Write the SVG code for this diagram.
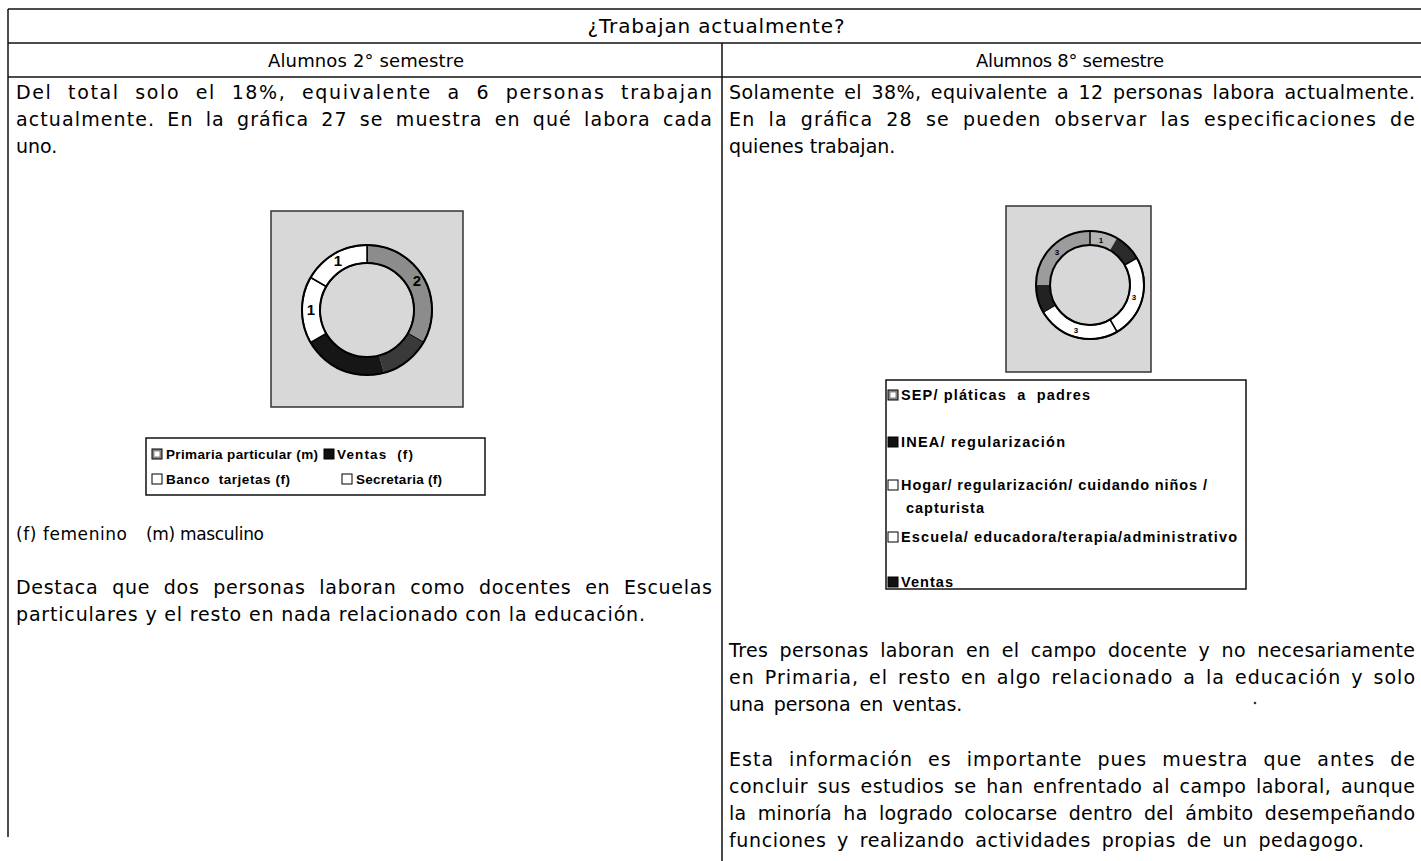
<svg xmlns="http://www.w3.org/2000/svg" width="1421" height="861" viewBox="0 0 1421 861">
<style>
.ln{stroke:#111;stroke-width:1.5;fill:none}
.t{font-family:"DejaVu Sans",sans-serif;font-size:19px;fill:#000}
.sh{font-family:"DejaVu Sans",sans-serif;font-size:18px;fill:#000}
.h{font-family:"DejaVu Sans",sans-serif;font-size:20px;fill:#000}
.s{font-family:"DejaVu Sans",sans-serif;font-size:17px;fill:#000}
.lg{font-family:"Liberation Sans",Arial,sans-serif;font-weight:bold;font-size:13.5px;fill:#000}
.lg2{font-family:"Liberation Sans",Arial,sans-serif;font-weight:bold;font-size:14.5px;fill:#000}
.dl{font-family:"Liberation Sans",Arial,sans-serif;font-weight:bold;font-size:15px;fill:#000}
.dl2{font-family:"Liberation Sans",Arial,sans-serif;font-weight:bold;font-size:8px;fill:#000}
.box{fill:#d8d8d8;stroke:#333;stroke-width:1.5}
.ring{fill:none;stroke:#000;stroke-width:2}
.seg{stroke:#000;stroke-width:1.5}
.ic{stroke:#000;stroke-width:1}
</style>
<rect width="1421" height="861" fill="#fff"/>
<g id="table">
<line class="ln" x1="8" y1="9" x2="1421" y2="9"/>
<line class="ln" x1="8" y1="43" x2="1421" y2="43"/>
<line class="ln" x1="8" y1="77" x2="1421" y2="77"/>
<line class="ln" x1="722" y1="43" x2="722" y2="861"/>
<line class="ln" x1="8" y1="9" x2="8" y2="837"/>
</g>
<g id="header">
<text class="h" x="716" y="33" text-anchor="middle" textLength="257" lengthAdjust="spacing">¿Trabajan actualmente?</text>
<text class="sh" x="366" y="67" text-anchor="middle" textLength="196" lengthAdjust="spacing">Alumnos 2° semestre</text>
<text class="sh" x="1070" y="67" text-anchor="middle" textLength="188" lengthAdjust="spacing">Alumnos 8° semestre</text>
</g>
<g id="left-text">
<text class="t" x="16" y="99" word-spacing="8" textLength="696" lengthAdjust="spacing">Del total solo el 18%, equivalente a 6 personas trabajan</text>
<text class="t" x="16" y="126" word-spacing="5" textLength="696" lengthAdjust="spacing">actualmente. En la gráfica 27 se muestra en qué labora cada</text>
<text class="t" x="16" y="153">uno.</text>
<text class="s" x="16" y="540" textLength="111" lengthAdjust="spacing">(f) femenino</text>
<text class="s" x="146" y="540" textLength="118" lengthAdjust="spacing">(m) masculino</text>
<text class="t" x="16" y="594" word-spacing="7" textLength="696" lengthAdjust="spacing">Destaca que dos personas laboran como docentes en Escuelas</text>
<text class="t" x="16" y="621" textLength="629" lengthAdjust="spacing">particulares y el resto en nada relacionado con la educación.</text>
</g>
<g id="chart-27">
<rect class="box" x="271" y="211" width="192" height="196"/>
<path class="seg" fill="#8c8c8c" d="M367,245 A65,65 0 0 1 423.29,342.5 L407.70,333.5 A47,47 0 0 0 367,263 Z"/>
<path fill="#3a3a3a" d="M423.29,342.5 A65,65 0 0 1 383.82,372.79 L379.16,355.40 A47,47 0 0 0 407.70,333.5 Z"/>
<path fill="#161616" d="M383.82,372.79 A65,65 0 0 1 310.71,342.5 L326.30,333.5 A47,47 0 0 0 379.16,355.40 Z"/>
<path class="seg" fill="#fff" d="M310.71,342.5 A65,65 0 0 1 310.71,277.5 L326.30,286.5 A47,47 0 0 0 326.30,333.5 Z"/>
<path class="seg" fill="#fff" d="M310.71,277.5 A65,65 0 0 1 367,245 L367,263 A47,47 0 0 0 326.30,286.5 Z"/>
<circle class="ring" cx="367" cy="310" r="65"/>
<circle class="ring" cx="367" cy="310" r="47"/>
<text class="dl" x="338" y="266" text-anchor="middle">1</text>
<text class="dl" x="417" y="286" text-anchor="middle">2</text>
<text class="dl" x="311" y="315" text-anchor="middle">1</text>
</g>
<g id="legend-27">
<rect x="146" y="438" width="339" height="57" fill="#fff" stroke="#111" stroke-width="1.5"/>
<rect class="ic" x="152" y="449" width="10" height="10" fill="#888"/>
<rect x="154.5" y="451.5" width="5" height="5" fill="#fff"/>
<text class="lg" x="166" y="459" textLength="152" lengthAdjust="spacing">Primaria particular (m)</text>
<rect class="ic" x="324" y="449" width="10" height="10" fill="#111"/>
<text class="lg" x="337" y="459" xml:space="preserve" textLength="76" lengthAdjust="spacing">Ventas  (f)</text>
<rect class="ic" x="152" y="474" width="10" height="10" fill="#fff"/>
<text class="lg" x="166" y="484" xml:space="preserve" textLength="124" lengthAdjust="spacing">Banco  tarjetas (f)</text>
<rect class="ic" x="342" y="474" width="10" height="10" fill="#fff"/>
<text class="lg" x="356" y="484" textLength="86" lengthAdjust="spacing">Secretaria (f)</text>
</g>
<g id="right-text">
<text class="t" x="729" y="99" word-spacing="3" textLength="686" lengthAdjust="spacing">Solamente el 38%, equivalente a 12 personas labora actualmente.</text>
<text class="t" x="729" y="126" word-spacing="6" textLength="686" lengthAdjust="spacing">En la gráfica 28 se pueden observar las especificaciones de</text>
<text class="t" x="729" y="153">quienes trabajan.</text>
<text class="t" x="729" y="657" word-spacing="5" textLength="686" lengthAdjust="spacing">Tres personas laboran en el campo docente y  no  necesariamente</text>
<text class="t" x="729" y="684" word-spacing="3" textLength="686" lengthAdjust="spacing">en  Primaria, el resto en algo  relacionado a la educación y solo</text>
<text class="t" x="729" y="711" word-spacing="3">una  persona  en  ventas.</text>
<circle cx="1255" cy="703" r="1.3" fill="#333"/>
<text class="t" x="729" y="766" word-spacing="8" textLength="686" lengthAdjust="spacing">Esta  información  es  importante  pues  muestra  que  antes  de</text>
<text class="t" x="729" y="793" word-spacing="3" textLength="686" lengthAdjust="spacing">concluir  sus estudios se han enfrentado al campo laboral,  aunque</text>
<text class="t" x="729" y="820" word-spacing="5" textLength="686" lengthAdjust="spacing">la minoría ha logrado colocarse dentro del ámbito  desempeñando</text>
<text class="t" x="729" y="847" word-spacing="4" textLength="635" lengthAdjust="spacing">funciones  y realizando  actividades  propias  de un pedagogo.</text>
</g>
<g id="chart-28">
<rect class="box" x="1006" y="206" width="145" height="166"/>
<path fill="#b5b5b5" d="M1090,231 A54,54 0 0 1 1117,238.23 L1110,250.36 A40,40 0 0 0 1090,245 Z"/>
<path fill="#2a2a2a" d="M1117,238.23 A54,54 0 0 1 1136.77,258 L1124.64,265 A40,40 0 0 0 1110,250.36 Z"/>
<path class="seg" fill="#fff" d="M1136.77,258 A54,54 0 0 1 1117,331.77 L1110,319.64 A40,40 0 0 0 1124.64,265 Z"/>
<path class="seg" fill="#fff" d="M1117,331.77 A54,54 0 0 1 1043.23,312 L1055.36,305 A40,40 0 0 0 1110,319.64 Z"/>
<path fill="#222" d="M1043.23,312 A54,54 0 0 1 1036,285 L1050,285 A40,40 0 0 0 1055.36,305 Z"/>
<path fill="#9c9c9c" d="M1036,285 A54,54 0 0 1 1090,231 L1090,245 A40,40 0 0 0 1050,285 Z"/>
<line x1="1090" y1="231" x2="1090" y2="245" stroke="#000" stroke-width="1.5"/>
<circle class="ring" cx="1090" cy="285" r="54"/>
<circle class="ring" cx="1090" cy="285" r="40"/>
<text class="dl2" x="1057" y="255" text-anchor="middle">3</text>
<text class="dl2" x="1101" y="243" text-anchor="middle">1</text>
<text class="dl2" x="1134" y="300" text-anchor="middle">3</text>
<text class="dl2" x="1076" y="333" text-anchor="middle">3</text>
</g>
<g id="legend-28">
<rect x="886" y="380" width="360" height="209" fill="#fff" stroke="#111" stroke-width="1.5"/>
<rect class="ic" x="888" y="390" width="10" height="10" fill="#888"/>
<rect x="890.5" y="392.5" width="5" height="5" fill="#fff"/>
<text class="lg2" x="901" y="400" xml:space="preserve" textLength="189" lengthAdjust="spacing">SEP/ pláticas  a  padres</text>
<rect class="ic" x="888" y="437" width="10" height="10" fill="#111"/>
<text class="lg2" x="901" y="447" textLength="164" lengthAdjust="spacing">INEA/ regularización</text>
<rect class="ic" x="888" y="480" width="10" height="10" fill="#fff"/>
<text class="lg2" x="901" y="490" textLength="306" lengthAdjust="spacing">Hogar/ regularización/ cuidando niños /</text>
<text class="lg2" x="906" y="513" textLength="78" lengthAdjust="spacing">capturista</text>
<rect class="ic" x="888" y="532" width="10" height="10" fill="#fff"/>
<text class="lg2" x="901" y="542" textLength="336" lengthAdjust="spacing">Escuela/ educadora/terapia/administrativo</text>
<rect class="ic" x="888" y="577" width="10" height="10" fill="#111"/>
<text class="lg2" x="901" y="587" textLength="52" lengthAdjust="spacing">Ventas</text>
</g>
</svg>
